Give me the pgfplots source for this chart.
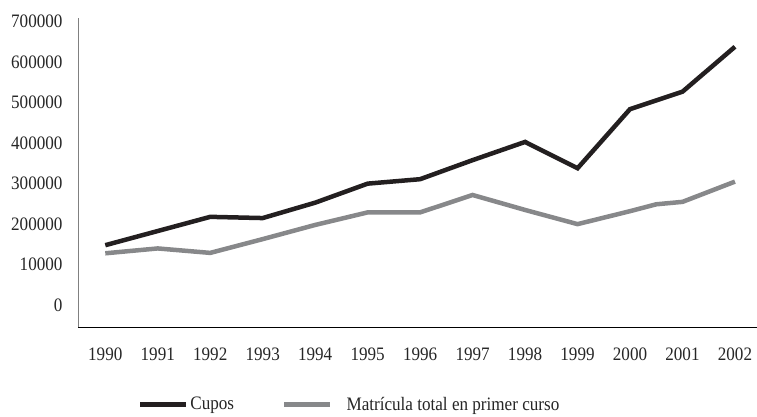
\documentclass[border=0pt]{standalone}
\usepackage{fontspec}
\setmainfont{Liberation Serif}[FakeStretch=0.9]
\usepackage{pgfplots}
\pgfplotsset{compat=1.18}
\definecolor{cblack}{HTML}{231F20}
\definecolor{cgrey}{HTML}{87888A}
\begin{document}
\begin{tikzpicture}[x=1pt,y=1pt]
\path[use as bounding box] (0,0) rectangle (757,416);
\begin{axis}[
  at={(78pt,89pt)}, anchor=south west,
  scale only axis, width=679pt, height=309pt,
  xmin=-0.52, xmax=12.42, ymin=-54000, ymax=709000,
  scaled y ticks=false,
  axis x line*=bottom, axis y line*=left,
  x axis line style={-, draw=black, line width=1pt},
  y axis line style={-, draw=gray, line width=1pt},
  major tick length=0pt,
  xtick={0,1,...,12},
  xticklabels={1990,1991,1992,1993,1994,1995,1996,1997,1998,1999,2000,2001,2002},
  ytick={0,100000,200000,300000,400000,500000,600000,700000},
  yticklabels={0,10000,200000,300000,400000,500000,600000,700000},
  tick label style={font=\fontsize{19}{22}\selectfont, text=black!85},
  yticklabel style={xshift=-12pt},
  xticklabel style={yshift=-17pt},
  legend columns=2,
  legend style={draw=none, at={(0.40,-0.250)}, anchor=center,
    font=\fontsize{19}{22}\selectfont, text=black!85,
    /tikz/every even column/.append style={column sep=46pt}},
  legend image code/.code={\draw[#1, line width=4.5pt] (0pt,0pt) -- (46pt,0pt);},
]
\addplot[cblack, line width=4.5pt, line join=miter] coordinates {
(0,148000) (1,183000) (2,218000) (3,215000) (4,253000) (5,300000) (6,311000)
(7,358000) (8,403000) (9,338000) (10,484000) (11,527000) (12,638000)};
\addlegendentry{Cupos}
\addplot[cgrey, line width=4.5pt, line join=miter] coordinates {
(0,128000) (1,140000) (2,129000) (3,163000) (4,198000) (5,229000) (6,229000)
(7,272000) (8,235000) (9,200000) (10,232000) (10.5,249000) (11,255000) (12,305000)};
\addlegendentry{\hspace{12pt}Matrícula total en primer curso}
\end{axis}
\end{tikzpicture}
\end{document}
